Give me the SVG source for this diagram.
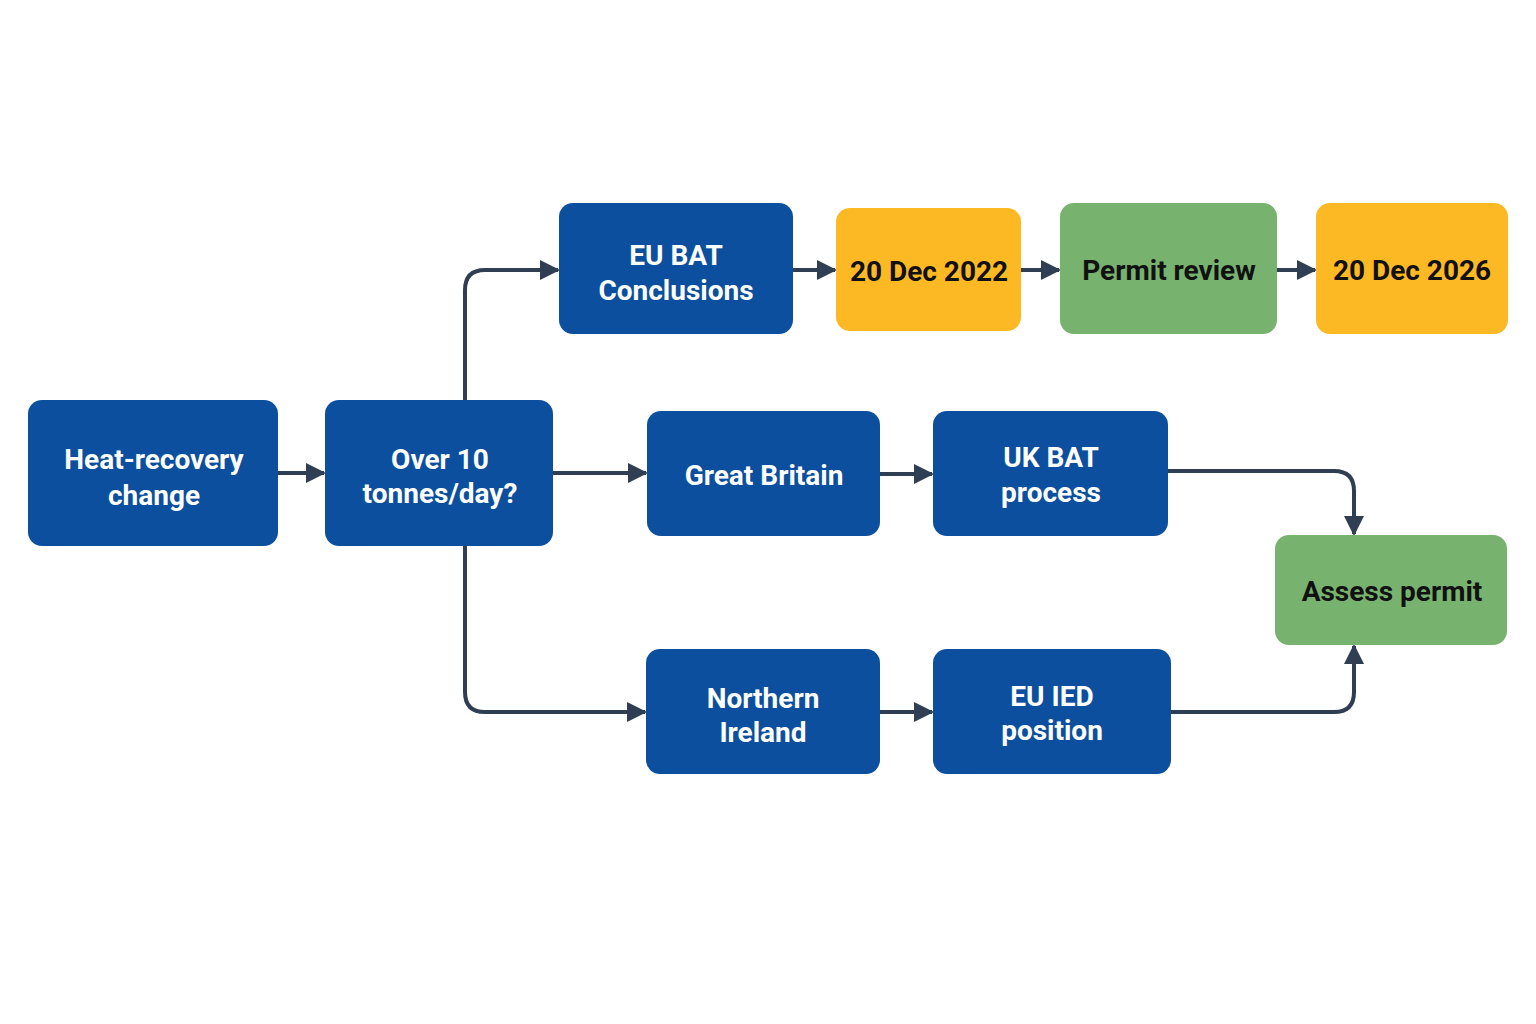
<svg xmlns="http://www.w3.org/2000/svg" width="1536" height="1024" viewBox="0 0 1536 1024">
<defs>
<style>
.b{fill:#0B4F9E}.o{fill:#FDB924}.g{fill:#77B36E}
text{font-family:Roboto,"Liberation Sans",sans-serif;font-weight:bold;font-size:28px;text-anchor:middle}
.w{fill:#fff}.d{fill:#111}
.c{fill:none;stroke:#2F3E52;stroke-width:4;marker-end:url(#a)}
</style>
<marker id="a" viewBox="0 0 10 10" refX="9" refY="5" markerWidth="5" markerHeight="5" orient="auto" markerUnits="strokeWidth"><path d="M0,0L10,5L0,10z" fill="#2F3E52"/></marker>
</defs>
<rect width="1536" height="1024" fill="#fff"/>
<g id="connectors">
<path class="c" d="M278,473H324"/>
<path class="c" d="M553,473H646"/>
<path class="c" d="M465,400V290Q465,270 485,270H558"/>
<path class="c" d="M465,546V692Q465,712 485,712H645"/>
<path class="c" d="M793,270H835"/>
<path class="c" d="M1021,270H1059"/>
<path class="c" d="M1277,270H1315"/>
<path class="c" d="M880,474H932"/>
<path class="c" d="M880,712H932"/>
<path class="c" d="M1168,471H1334Q1354,471 1354,491V534"/>
<path class="c" d="M1171,712H1334Q1354,712 1354,692V646"/>
</g>
<g id="heat"><rect class="b" x="28" y="400" width="250" height="146" rx="14"/><text class="w" x="154" y="469">Heat-recovery</text><text class="w" x="154" y="505">change</text></g>
<g id="over"><rect class="b" x="325" y="400" width="228" height="146" rx="14"/><text class="w" x="440" y="469">Over 10</text><text class="w" x="440" y="503">tonnes/day?</text></g>
<g id="eubat"><rect class="b" x="559" y="203" width="234" height="131" rx="14"/><text class="w" x="676" y="265">EU BAT</text><text class="w" x="676" y="300">Conclusions</text></g>
<g id="d2022"><rect class="o" x="836" y="208" width="185" height="123" rx="14"/><text class="d" x="929" y="281">20 Dec 2022</text></g>
<g id="review"><rect class="g" x="1060" y="203" width="217" height="131" rx="14"/><text class="d" x="1169" y="280">Permit review</text></g>
<g id="d2026"><rect class="o" x="1316" y="203" width="192" height="131" rx="14"/><text class="d" x="1412" y="280">20 Dec 2026</text></g>
<g id="gb"><rect class="b" x="647" y="411" width="233" height="125" rx="14"/><text class="w" x="764" y="485">Great Britain</text></g>
<g id="ukbat"><rect class="b" x="933" y="411" width="235" height="125" rx="14"/><text class="w" x="1051" y="467">UK BAT</text><text class="w" x="1051" y="502">process</text></g>
<g id="assess"><rect class="g" x="1275" y="535" width="232" height="110" rx="14"/><text class="d" x="1392" y="601">Assess permit</text></g>
<g id="ni"><rect class="b" x="646" y="649" width="234" height="125" rx="14"/><text class="w" x="763" y="708">Northern</text><text class="w" x="763" y="742">Ireland</text></g>
<g id="ied"><rect class="b" x="933" y="649" width="238" height="125" rx="14"/><text class="w" x="1052" y="706">EU IED</text><text class="w" x="1052" y="740">position</text></g>
</svg>
